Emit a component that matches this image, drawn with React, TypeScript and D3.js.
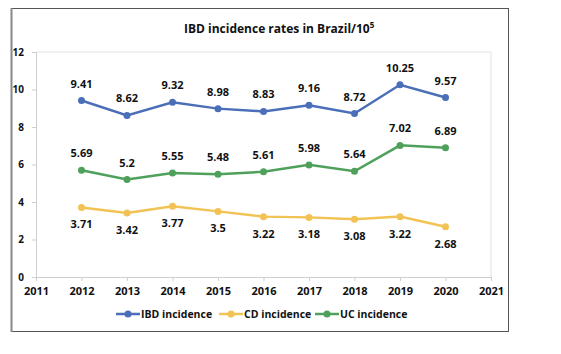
import React, { useEffect, useRef } from 'react';
import * as d3 from 'd3';

const years = [2012, 2013, 2014, 2015, 2016, 2017, 2018, 2019, 2020];
const ibd = [9.41, 8.62, 9.32, 8.98, 8.83, 9.16, 8.72, 10.25, 9.57];
const cd = [3.71, 3.42, 3.77, 3.5, 3.22, 3.18, 3.08, 3.22, 2.68];
const uc = [5.69, 5.2, 5.55, 5.48, 5.61, 5.98, 5.64, 7.02, 6.89];
const yTicks = [0, 2, 4, 6, 8, 10, 12];
const xTicks = [2011, 2012, 2013, 2014, 2015, 2016, 2017, 2018, 2019, 2020, 2021];

const seriesList = [
  { name: 'IBD incidence', values: ibd, color: '#4a6fb8', above: true },
  { name: 'CD incidence', values: cd, color: '#f2c354', above: false },
  { name: 'UC incidence', values: uc, color: '#4fa05a', above: true },
];

const App = () => {
  const svgRef = useRef(null);

  useEffect(() => {
    const svg = d3.select(svgRef.current);
    svg.selectAll('*').remove();

    const width = 561;
    const height = 354;
    const font = '"Open Sans", "Liberation Sans", sans-serif';

    svg.attr('width', width).attr('height', height);

    svg.append('rect').attr('width', width).attr('height', height).attr('fill', '#fff');

    // outer chart frame
    svg.append('rect')
      .attr('x', 11.5).attr('y', 8.5)
      .attr('width', 497).attr('height', 323)
      .attr('fill', '#fff')
      .attr('stroke', '#555')
      .attr('stroke-width', 1);
    svg.append('line')
      .attr('x1', 11.5).attr('x2', 11.5).attr('y1', 8).attr('y2', 332)
      .attr('stroke', '#888').attr('stroke-width', 2);

    const x = d3.scaleLinear().domain([2011, 2021]).range([36, 491]);
    const y = d3.scaleLinear().domain([0, 12]).range([277, 52]);

    // plot area border (light)
    svg.append('path')
      .attr('d', `M${x(2011)},${y(12)}H${x(2021)}V${y(0)}`)
      .attr('fill', 'none')
      .attr('stroke', '#e2e2e2');

    svg.append('text')
      .attr('x', 184).attr('y', 33)
      .style('font-family', font)
      .style('font-size', '12px')
      .style('font-weight', 'bold')
      .style('fill', '#111')
      .text('IBD incidence rates in Brazil/10')
      .append('tspan')
      .attr('dy', -5)
      .style('font-size', '8px')
      .text('5');

    const xAxis = svg.append('g')
      .attr('transform', `translate(0,${y(0)})`)
      .call(d3.axisBottom(x).tickValues(xTicks).tickFormat(d3.format('d')).tickSize(4).tickPadding(6));
    xAxis.select('.domain').attr('stroke', '#cfcfcf');
    xAxis.selectAll('line').attr('stroke', '#cfcfcf');
    xAxis.selectAll('text')
      .style('font-family', font)
      .style('font-size', '11px')
      .style('font-weight', 'bold')
      .style('fill', '#111');

    const yAxis = svg.append('g')
      .attr('transform', `translate(${x(2011)},0)`)
      .call(d3.axisLeft(y).tickValues(yTicks).tickSize(4).tickPadding(8));
    yAxis.select('.domain').attr('stroke', '#cfcfcf');
    yAxis.selectAll('line').attr('stroke', '#cfcfcf');
    yAxis.selectAll('text')
      .style('font-family', font)
      .style('font-size', '10px')
      .style('font-weight', 'bold')
      .style('fill', '#111');

    const line = d3.line<number>()
      .x((d, i) => x(years[i]))
      .y(d => y(d));

    seriesList.forEach(s => {
      const g = svg.append('g');
      g.append('path')
        .attr('d', line(s.values))
        .attr('fill', 'none')
        .attr('stroke', s.color)
        .attr('stroke-width', 2.5);
      g.selectAll('circle')
        .data(s.values)
        .enter()
        .append('circle')
        .attr('cx', (d, i) => x(years[i]))
        .attr('cy', d => y(d))
        .attr('r', 3.5)
        .attr('fill', s.color);
      g.selectAll('text')
        .data(s.values)
        .enter()
        .append('text')
        .attr('x', (d, i) => x(years[i]))
        .attr('y', d => y(d) + (s.above ? -13 : 21))
        .attr('text-anchor', 'middle')
        .style('font-family', font)
        .style('font-size', '11px')
        .style('font-weight', 'bold')
        .style('fill', '#111')
        .text(d => String(d));
    });

    // legend
    const legendX = [116, 219, 315];
    seriesList.forEach((s, i) => {
      const lg = svg.append('g').attr('transform', `translate(${legendX[i]},314)`);
      lg.append('line')
        .attr('x1', 0).attr('x2', 24)
        .attr('stroke', s.color).attr('stroke-width', 2.5);
      lg.append('circle').attr('cx', 12).attr('r', 3.5).attr('fill', s.color);
      lg.append('text')
        .attr('x', 25).attr('y', 4)
        .style('font-family', font)
        .style('font-size', '10.5px')
        .style('font-weight', 'bold')
        .style('fill', '#111')
        .text(s.name);
    });
  }, []);

  return (
    <div style={{ position: 'absolute', left: 0, top: 0 }}>
      <svg ref={svgRef}></svg>
    </div>
  );
};

export default App;
